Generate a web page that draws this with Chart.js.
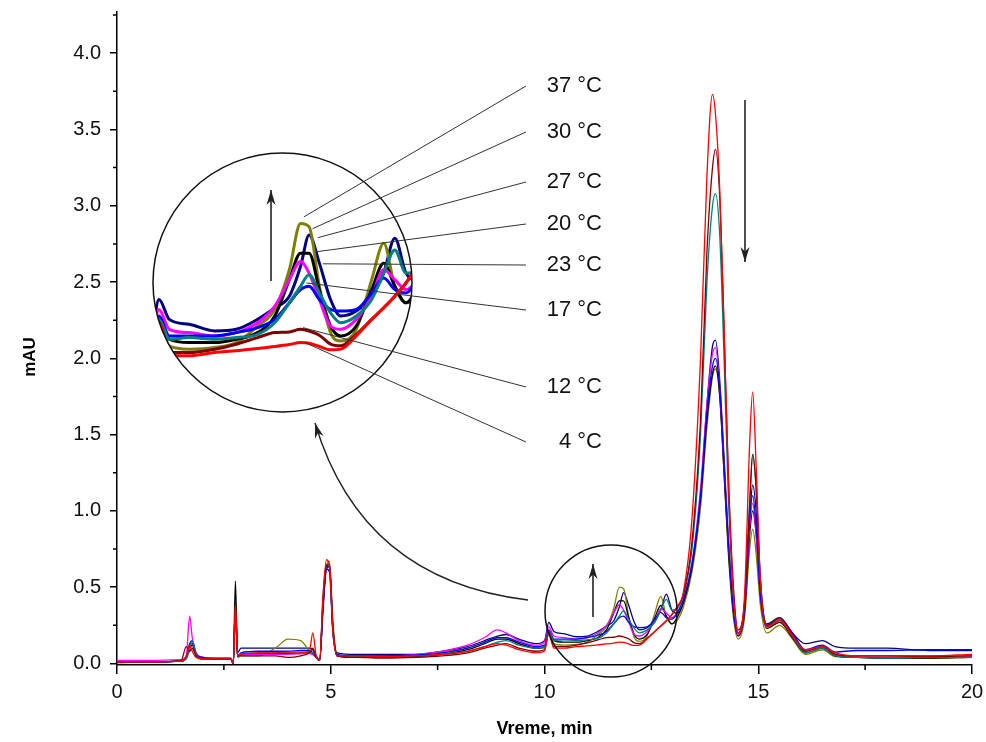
<!DOCTYPE html>
<html>
<head>
<meta charset="utf-8">
<script src="https://cdn.jsdelivr.net/npm/chart.js@4.4.1/dist/chart.umd.min.js"></script>
<style>
  html, body { margin: 0; padding: 0; background: #fff; }
  #wrap { position: relative; width: 986px; height: 742px; }
  #main { position: absolute; left: 0; top: 0; }
  #lens { position: absolute; left: 153px; top: 153px; width: 259px; height: 259px; border-radius: 50%; overflow: hidden; background: #fff; }
  #over { position: absolute; left: 0; top: 0; pointer-events: none; }
</style>
</head>
<body>
<div id="wrap">
  <canvas id="main" width="986" height="742"></canvas>
  <div id="lens"><canvas id="zoom" width="259" height="259"></canvas></div>
  <canvas id="over" width="986" height="742"></canvas>
</div>
<script>
// retention time, min
const time = [0, 0.8, 1.5, 1.62, 1.7, 1.76, 1.85, 2.0, 2.4, 2.66,
  2.72, 2.77, 2.82, 2.9, 3.3, 3.7, 4.0, 4.3, 4.5, 4.58,
  4.66, 4.74, 4.82, 4.9, 4.97, 5.05, 5.15, 5.6, 6.3, 7.0,
  7.6, 8.2, 8.6, 8.9, 9.1, 9.4, 9.8, 10.0, 10.1, 10.22,
  10.45, 10.75, 11.0, 11.25, 11.45, 11.62, 11.75, 11.85, 11.97, 12.1,
  12.22, 12.4, 12.58, 12.72, 12.85, 12.98, 13.1, 13.25, 13.45, 13.65,
  13.8, 13.93, 14.0, 14.1, 14.2, 14.3, 14.42, 14.53, 14.68, 14.8,
  14.87, 14.95, 15.05, 15.2, 15.5, 15.8, 16.1, 16.5, 16.8, 17.3,
  18.0, 19.0, 20.0];

// absorbance, mAU, one list per temperature
const c4 = [0.01, 0.01, 0.015, 0.05, 0.12, 0.08, 0.04, 0.03, 0.03, 0.03,
  0.0, 0.38, 0.05, 0.06, 0.07, 0.07, 0.07, 0.07, 0.08, 0.2,
  0.05, 0.02, 0.45, 0.68, 0.64, 0.22, 0.05, 0.05, 0.045, 0.05,
  0.06, 0.08, 0.11, 0.13, 0.12, 0.09, 0.07, 0.08, 0.2, 0.1,
  0.1, 0.11, 0.115, 0.122, 0.128, 0.134, 0.14, 0.138, 0.128, 0.118,
  0.12, 0.16, 0.21, 0.245, 0.28, 0.32, 0.37, 0.47, 0.95, 2.0,
  3.2, 3.73, 3.6, 3.1, 2.2, 1.2, 0.45, 0.2, 0.45, 1.45,
  1.78, 1.3, 0.55, 0.24, 0.28, 0.18, 0.09, 0.11, 0.07, 0.05,
  0.05, 0.05, 0.06];
const c12 = [0.01, 0.01, 0.02, 0.11, 0.08, 0.1, 0.05, 0.03, 0.03, 0.03,
  0.0, 0.4, 0.05, 0.05, 0.05, 0.05, 0.04, 0.05, 0.07, 0.1,
  0.04, 0.02, 0.4, 0.64, 0.65, 0.25, 0.05, 0.04, 0.035, 0.04,
  0.05, 0.07, 0.1, 0.12, 0.13, 0.1, 0.08, 0.09, 0.2, 0.11,
  0.11, 0.12, 0.135, 0.155, 0.17, 0.172, 0.18, 0.175, 0.162, 0.135,
  0.13, 0.165, 0.21, 0.245, 0.28, 0.32, 0.37, 0.45, 0.8, 1.6,
  2.7, 3.25, 3.37, 3.05, 2.2, 1.25, 0.5, 0.22, 0.4, 1.05,
  1.37, 1.15, 0.55, 0.25, 0.3, 0.19, 0.08, 0.11, 0.06, 0.05,
  0.05, 0.045, 0.05];
const c17 = [0.01, 0.01, 0.015, 0.04, 0.12, 0.13, 0.06, 0.04, 0.03, 0.03,
  0.0, 0.36, 0.05, 0.07, 0.08, 0.08, 0.08, 0.085, 0.085, 0.07,
  0.04, 0.02, 0.38, 0.62, 0.64, 0.22, 0.06, 0.05, 0.05, 0.055,
  0.07, 0.1, 0.14, 0.17, 0.17, 0.14, 0.11, 0.12, 0.22, 0.16,
  0.16, 0.16, 0.17, 0.185, 0.21, 0.26, 0.3, 0.31, 0.27, 0.24,
  0.235, 0.24, 0.29, 0.335, 0.3, 0.29, 0.33, 0.42, 0.65, 1.1,
  1.65, 1.95, 2.0, 1.8, 1.3, 0.8, 0.35, 0.2, 0.37, 0.95,
  1.1, 0.9, 0.45, 0.25, 0.29, 0.2, 0.09, 0.12, 0.075, 0.085,
  0.085, 0.09, 0.09];
const c20 = [0.02, 0.02, 0.025, 0.05, 0.31, 0.17, 0.07, 0.04, 0.035, 0.035,
  0.0, 0.35, 0.05, 0.06, 0.06, 0.06, 0.06, 0.065, 0.065, 0.06,
  0.04, 0.02, 0.4, 0.63, 0.63, 0.22, 0.05, 0.05, 0.05, 0.06,
  0.08, 0.12, 0.17, 0.22, 0.2, 0.15, 0.12, 0.14, 0.24, 0.18,
  0.17, 0.16, 0.17, 0.2, 0.25, 0.33, 0.385, 0.35, 0.27, 0.19,
  0.18, 0.21, 0.28, 0.36, 0.33, 0.3, 0.33, 0.42, 0.66, 1.15,
  1.7, 2.03, 2.07, 1.8, 1.3, 0.8, 0.35, 0.19, 0.36, 0.9,
  1.05, 0.85, 0.45, 0.24, 0.29, 0.18, 0.08, 0.11, 0.06, 0.05,
  0.05, 0.05, 0.05];
const c23 = [0.01, 0.01, 0.015, 0.03, 0.1, 0.15, 0.06, 0.03, 0.03, 0.03,
  0.0, 0.38, 0.05, 0.06, 0.07, 0.07, 0.075, 0.075, 0.075, 0.07,
  0.05, 0.02, 0.45, 0.65, 0.64, 0.22, 0.05, 0.045, 0.045, 0.05,
  0.06, 0.08, 0.11, 0.14, 0.15, 0.12, 0.1, 0.11, 0.21, 0.15,
  0.155, 0.15, 0.155, 0.165, 0.2, 0.26, 0.31, 0.345, 0.29, 0.23,
  0.2, 0.22, 0.27, 0.35, 0.42, 0.35, 0.36, 0.45, 0.75, 1.5,
  2.5, 3.0, 3.08, 2.8, 2.0, 1.1, 0.45, 0.2, 0.4, 1.05,
  1.37, 1.15, 0.55, 0.25, 0.29, 0.18, 0.07, 0.1, 0.05, 0.04,
  0.035, 0.04, 0.04];
const c27 = [0.01, 0.01, 0.015, 0.04, 0.1, 0.12, 0.06, 0.03, 0.03, 0.03,
  0.0, 0.54, 0.05, 0.06, 0.065, 0.065, 0.065, 0.065, 0.07, 0.07,
  0.04, 0.02, 0.4, 0.64, 0.64, 0.22, 0.05, 0.04, 0.04, 0.045,
  0.06, 0.09, 0.13, 0.16, 0.16, 0.13, 0.1, 0.11, 0.21, 0.15,
  0.14, 0.14, 0.15, 0.17, 0.22, 0.33, 0.41, 0.41, 0.3, 0.19,
  0.16, 0.19, 0.3, 0.38, 0.31, 0.26, 0.3, 0.4, 0.63, 1.08,
  1.6, 1.9, 1.95, 1.75, 1.25, 0.75, 0.33, 0.18, 0.34, 0.85,
  1.0, 0.85, 0.45, 0.23, 0.27, 0.17, 0.07, 0.1, 0.05, 0.04,
  0.035, 0.035, 0.04];
const c30 = [0.005, 0.01, 0.015, 0.04, 0.13, 0.15, 0.07, 0.04, 0.035, 0.035,
  0.0, 0.4, 0.07, 0.1, 0.1, 0.1, 0.1, 0.1, 0.1, 0.09,
  0.05, 0.02, 0.35, 0.62, 0.6, 0.2, 0.07, 0.06, 0.06, 0.06,
  0.08, 0.11, 0.15, 0.18, 0.19, 0.16, 0.13, 0.15, 0.27, 0.21,
  0.195, 0.175, 0.18, 0.21, 0.245, 0.28, 0.37, 0.465, 0.38, 0.27,
  0.22, 0.235, 0.28, 0.35, 0.455, 0.35, 0.33, 0.4, 0.64, 1.1,
  1.7, 2.08, 2.12, 1.85, 1.35, 0.82, 0.36, 0.2, 0.37, 0.95,
  1.17, 1.0, 0.5, 0.26, 0.3, 0.2, 0.13, 0.15, 0.11, 0.1,
  0.1, 0.085, 0.085];
const c37 = [0.01, 0.01, 0.015, 0.03, 0.08, 0.1, 0.05, 0.03, 0.03, 0.03,
  0.0, 0.36, 0.04, 0.05, 0.05, 0.1, 0.16, 0.15, 0.08, 0.06,
  0.04, 0.02, 0.38, 0.64, 0.67, 0.28, 0.05, 0.045, 0.045, 0.05,
  0.07, 0.1, 0.14, 0.17, 0.17, 0.13, 0.1, 0.1, 0.2, 0.13,
  0.12, 0.125, 0.14, 0.19, 0.24, 0.36, 0.5, 0.49, 0.31, 0.17,
  0.145, 0.18, 0.33, 0.44, 0.31, 0.26, 0.28, 0.37, 0.6, 1.02,
  1.55, 1.88, 1.93, 1.75, 1.25, 0.72, 0.3, 0.16, 0.3, 0.75,
  0.88, 0.72, 0.38, 0.2, 0.25, 0.16, 0.06, 0.09, 0.045, 0.04,
  0.035, 0.035, 0.04];

const labels = ['4 °C', '12 °C', '17 °C', '20 °C', '23 °C', '27 °C', '30 °C', '37 °C'];
const values = [c4, c12, c17, c20, c23, c27, c30, c37];
const colors = ['#ff0000', '#800000', '#0000ff', '#ff00ff', '#008080', '#000000', '#000080', '#808000'];

const xTicks = [0, 5, 10, 15, 20];
const xMinor = [2.5, 7.5, 12.5, 17.5];
const yTicks = [0, 0.5, 1.0, 1.5, 2.0, 2.5, 3.0, 3.5, 4.0];
const yMinor = [0.25, 0.75, 1.25, 1.75, 2.25, 2.75, 3.25, 3.75, 4.25];

// leader lines: label, where it touches the zoomed curves (time, mAU)
const tagText = ['37 °C', '30 °C', '27 °C', '20 °C', '23 °C', '17 °C', '12 °C', '4 °C'];
const tagAt = [[11.79, 0.52], [11.89, 0.484], [11.95, 0.457], [11.92, 0.414],
  [12.01, 0.378], [11.82, 0.32], [11.78, 0.185], [11.8, 0.14]];

const FONT = '"Liberation Sans", Arial, sans-serif';
const drawOrder = [0, 1, 4, 2, 3, 5, 7, 6];

function makeSets(width) {
  return drawOrder.map(i => ({
    label: labels[i],
    data: time.map((t, k) => ({ x: t, y: values[i][k] })),
    borderColor: colors[i],
    borderWidth: width,
    pointRadius: 0,
    fill: false,
    cubicInterpolationMode: 'monotone'
  }));
}

const minorTicks = {
  id: 'minorTicks',
  afterDraw(chart) {
    const { ctx, scales: { x, y } } = chart;
    ctx.save();
    ctx.strokeStyle = '#000';
    ctx.lineWidth = 1.5;
    ctx.beginPath();
    xMinor.forEach(v => {
      const px = x.getPixelForValue(v);
      ctx.moveTo(px, y.bottom); ctx.lineTo(px, y.bottom + 5);
    });
    yMinor.forEach(v => {
      const py = y.getPixelForValue(v);
      ctx.moveTo(x.left, py); ctx.lineTo(x.left - 4, py);
    });
    ctx.stroke();
    // y axis title
    ctx.translate(30, 357);
    ctx.rotate(-Math.PI / 2);
    ctx.fillStyle = '#000';
    ctx.font = 'bold 17px ' + FONT;
    ctx.textAlign = 'center';
    ctx.textBaseline = 'middle';
    ctx.fillText('mAU', 0, 0);
    ctx.restore();
  }
};

const mainChart = new Chart(document.getElementById('main'), {
  type: 'line',
  data: { datasets: makeSets(1.3) },
  options: {
    responsive: false,
    animation: false,
    events: [],
    layout: { padding: { left: 0, right: 14, top: 12, bottom: 0 } },
    plugins: { legend: { display: false }, tooltip: { enabled: false } },
    scales: {
      x: {
        type: 'linear', min: 0, max: 20,
        afterBuildTicks: s => { s.ticks = xTicks.map(v => ({ value: v })); },
        afterFit: s => { s.height = 77; s.paddingLeft = 0; s.paddingRight = 0; },
        ticks: { color: '#111', font: { family: FONT, size: 20 }, padding: 6, maxRotation: 0, autoSkip: false,
          callback: v => String(v) },
        grid: { drawOnChartArea: false, tickLength: 9, color: '#000', lineWidth: 1.5 },
        border: { color: '#000', width: 1.5 },
        title: { display: true, text: 'Vreme, min', color: '#000', font: { family: FONT, size: 18, weight: 'bold' },
          padding: { top: 0, bottom: 2 } }
      },
      y: {
        min: -0.01, max: 4.27,
        afterBuildTicks: s => { s.ticks = yTicks.map(v => ({ value: v })); },
        afterFit: s => { s.width = 117; s.paddingTop = 0; s.paddingBottom = 0; },
        ticks: { color: '#111', font: { family: FONT, size: 20 }, padding: 9, autoSkip: false,
          callback: v => v.toFixed(1) },
        grid: { drawOnChartArea: false, tickLength: 7, color: '#000', lineWidth: 1.5 },
        border: { color: '#000', width: 1.5 }
      }
    }
  },
  plugins: [minorTicks]
});

const zoomChart = new Chart(document.getElementById('zoom'), {
  type: 'line',
  data: { datasets: makeSets(3) },
  options: {
    responsive: false,
    animation: false,
    events: [],
    layout: { padding: 0 },
    plugins: { legend: { display: false }, tooltip: { enabled: false } },
    scales: {
      x: { type: 'linear', min: 10.03, max: 13.05, display: false },
      y: { min: -0.07, max: 0.713, display: false }
    }
  }
});

// annotations on top
const o = document.getElementById('over').getContext('2d');
o.strokeStyle = '#222';
o.fillStyle = '#222';

function arrowHead(x, y, ang, len, half) {
  o.beginPath();
  o.moveTo(x, y);
  o.lineTo(x - len * Math.cos(ang) + half * Math.sin(ang), y - len * Math.sin(ang) - half * Math.cos(ang));
  o.lineTo(x - len * 0.7 * Math.cos(ang), y - len * 0.7 * Math.sin(ang));
  o.lineTo(x - len * Math.cos(ang) - half * Math.sin(ang), y - len * Math.sin(ang) + half * Math.cos(ang));
  o.closePath();
  o.fill();
}
function arrow(x1, y1, x2, y2) {
  o.lineWidth = 1.6;
  o.beginPath(); o.moveTo(x1, y1); o.lineTo(x2, y2); o.stroke();
  arrowHead(x2, y2, Math.atan2(y2 - y1, x2 - x1), 15, 4.5);
}

// circles
o.lineWidth = 1.5;
o.strokeStyle = '#111';
o.beginPath(); o.arc(282.5, 282.5, 129.5, 0, Math.PI * 2); o.stroke();
o.beginPath(); o.arc(611, 611, 66, 0, Math.PI * 2); o.stroke();

o.strokeStyle = '#222';
arrow(745, 100, 745, 262);
arrow(593, 617, 593, 564);
arrow(271, 281, 271, 190);

// curved arrow from the small circle to the lens
o.lineWidth = 1.4;
o.beginPath();
o.moveTo(528, 600);
o.quadraticCurveTo(362, 580, 315, 423);
o.stroke();
arrowHead(315, 423, Math.atan2(423 - 580, 315 - 362), 15, 4.5);

// labels and leader lines
const tagY = [86, 132, 182, 224, 265, 310, 387, 442];
const zx = zoomChart.scales.x, zy = zoomChart.scales.y;
o.lineWidth = 1;
o.strokeStyle = '#333';
tagAt.forEach((p, i) => {
  o.beginPath();
  o.moveTo(526, tagY[i]);
  o.lineTo(153 + zx.getPixelForValue(p[0]), 153 + zy.getPixelForValue(p[1]));
  o.stroke();
});
o.font = '22px ' + FONT;
o.fillStyle = '#111';
o.textAlign = 'right';
o.textBaseline = 'middle';
tagText.forEach((s, i) => o.fillText(s, 602, tagY[i]));
</script>
</body>
</html>
